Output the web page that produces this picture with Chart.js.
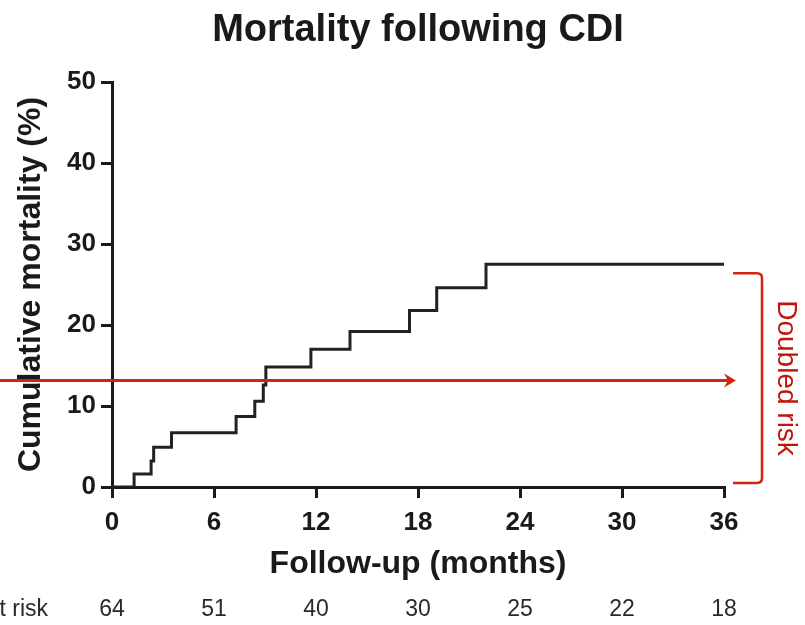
<!DOCTYPE html>
<html>
<head>
<meta charset="utf-8">
<title>Mortality following CDI</title>
<script src="https://cdn.jsdelivr.net/npm/chart.js@4.4.1/dist/chart.umd.min.js"></script>
<style>
    html, body { margin: 0; padding: 0; background: #fff; }
    #wrap { width: 805px; height: 625px; }
</style>
</head>
<body>
<div id="wrap"><canvas id="mortalityChart" width="805" height="625"></canvas></div>
<script>
// ── Data ─────────────────────────────────────────────────────────────────
const months = [0, 1.3, 2.3, 2.45, 3.5, 7.3, 8.4, 8.9, 9.05, 11.7, 14.0, 17.5, 19.1, 22.0, 36];
const mortality = [0, 1.6, 3.2, 4.9, 6.7, 8.7, 10.6, 12.6, 14.8, 17.0, 19.2, 21.8, 24.6, 27.5, 27.5];
const atRiskMonths = [0, 6, 12, 18, 24, 30, 36];
const atRiskCounts = [64, 51, 40, 30, 25, 22, 18];
const doubledRiskLevel = 13.2;
const bracketRange = [26.4, 0.5];

const FONT = '"Liberation Sans", Arial, Helvetica, sans-serif';
const RED = '#d0260e';

document.addEventListener('DOMContentLoaded', () => {
    const ctx = document.getElementById('mortalityChart');

    // ── Annotations: title, red arrow, bracket, numbers at risk ─────────────
    const annotations = {
        id: 'annotations',
        afterDraw(chart) {
            const { ctx: c, chartArea: a, scales: { x, y } } = chart;
            c.save();

            // title
            c.fillStyle = '#1a1a1a';
            c.font = `bold 38px ${FONT}`;
            c.textAlign = 'center';
            c.textBaseline = 'middle';
            c.fillText('Mortality following CDI', (a.left + a.right) / 2, 31);

            // red arrow
            const ry = Math.round(y.getPixelForValue(doubledRiskLevel)) + 0.5;
            const tip = a.right + 12;
            c.strokeStyle = RED;
            c.fillStyle = RED;
            c.lineWidth = 3;
            c.beginPath();
            c.moveTo(0, ry);
            c.lineTo(tip - 6, ry);
            c.stroke();
            c.beginPath();
            c.moveTo(tip, ry);
            c.lineTo(tip - 12, ry - 7);
            c.lineTo(tip - 8, ry);
            c.lineTo(tip - 12, ry + 7);
            c.closePath();
            c.fill();

            // bracket
            const bTop = y.getPixelForValue(bracketRange[0]);
            const bBot = y.getPixelForValue(bracketRange[1]);
            const bx = a.right + 38;
            const bl = a.right + 9;
            const r = 5;
            c.lineWidth = 2.5;
            c.beginPath();
            c.moveTo(bl, bTop);
            c.lineTo(bx - r, bTop);
            c.quadraticCurveTo(bx, bTop, bx, bTop + r);
            c.lineTo(bx, bBot - r);
            c.quadraticCurveTo(bx, bBot, bx - r, bBot);
            c.lineTo(bl, bBot);
            c.stroke();

            // rotated label
            c.save();
            c.translate(bx + 24, (bTop + bBot) / 2);
            c.rotate(Math.PI / 2);
            c.fillStyle = '#c0160a';
            c.font = `28px ${FONT}`;
            c.textAlign = 'center';
            c.textBaseline = 'middle';
            c.fillText('Doubled risk', 0, 0);
            c.restore();

            // numbers at risk
            c.fillStyle = '#2a2a2a';
            c.font = `23px ${FONT}`;
            c.textBaseline = 'middle';
            c.textAlign = 'right';
            c.fillText('At risk', 48, 610);
            c.textAlign = 'center';
            atRiskMonths.forEach((m, i) => {
                c.fillText(String(atRiskCounts[i]), x.getPixelForValue(m), 610);
            });

            c.restore();
        }
    };

    new Chart(ctx, {
        type: 'line',
        data: {
            datasets: [{
                label: 'Cumulative mortality',
                data: months.map((m, i) => ({ x: m, y: mortality[i] })),
                stepped: true,
                borderColor: '#222',
                borderWidth: 3,
                pointRadius: 0,
                fill: false
            }]
        },
        options: {
            responsive: false,
            animation: false,
            devicePixelRatio: 1,
            layout: { padding: { left: 0, right: 81, top: 82, bottom: 0 } },
            plugins: { legend: { display: false }, tooltip: { enabled: false } },
            scales: {
                x: {
                    type: 'linear',
                    min: 0,
                    max: 36,
                    ticks: {
                        stepSize: 6,
                        color: '#1a1a1a',
                        font: { family: FONT, size: 26, weight: 'bold' },
                        padding: 9
                    },
                    grid: { drawOnChartArea: false, drawTicks: true, tickLength: 11, color: '#1a1a1a', lineWidth: 3 },
                    border: { display: true, color: '#1a1a1a', width: 3 },
                    title: {
                        display: true,
                        text: 'Follow-up (months)',
                        color: '#1a1a1a',
                        font: { family: FONT, size: 32, weight: 'bold' },
                        padding: { top: 0, bottom: 42 }
                    },
                    afterFit(scale) { scale.height = 138; }
                },
                y: {
                    min: 0,
                    max: 50,
                    ticks: {
                        stepSize: 10,
                        color: '#1a1a1a',
                        font: { family: FONT, size: 26, weight: 'bold' },
                        padding: 5
                    },
                    grid: { drawOnChartArea: false, drawTicks: true, tickLength: 11, color: '#1a1a1a', lineWidth: 3 },
                    border: { display: true, color: '#1a1a1a', width: 3 },
                    title: {
                        display: true,
                        text: 'Cumulative mortality (%)',
                        color: '#1a1a1a',
                        font: { family: FONT, size: 32, weight: 'bold' },
                        padding: { top: 12, bottom: 0 }
                    },
                    afterFit(scale) { scale.width = 112; }
                }
            }
        },
        plugins: [annotations]
    });
});
</script>
</body>
</html>
